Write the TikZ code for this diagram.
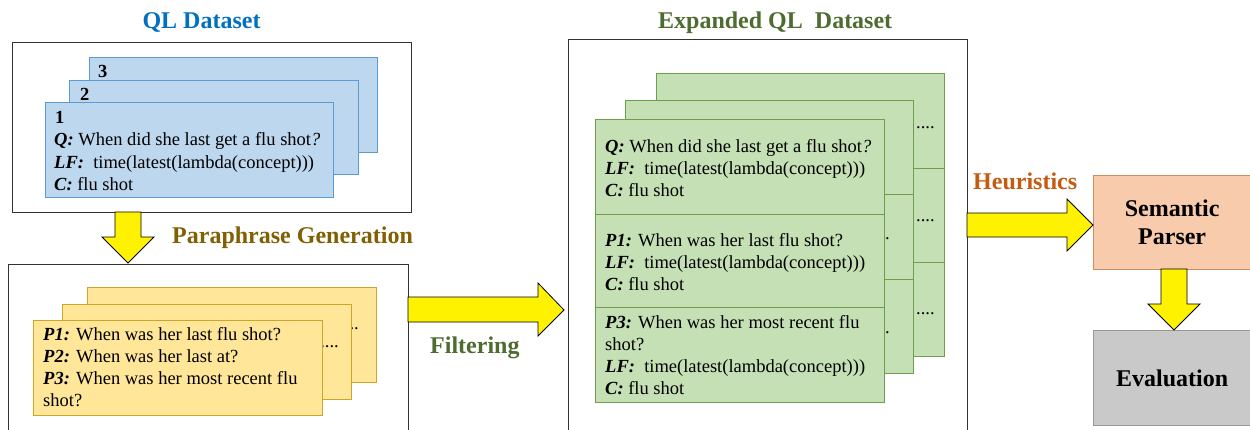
\documentclass[tikz,border=0pt]{standalone}
\usepackage{fontspec}
\setmainfont{Liberation Serif}
\definecolor{cBlueF}{HTML}{BDD7EE}
\definecolor{cBlueD}{HTML}{5B9BD5}
\definecolor{cYelF}{HTML}{FFE699}
\definecolor{cYelD}{HTML}{CFA528}
\definecolor{cGrnF}{HTML}{C5E0B4}
\definecolor{cGrnD}{HTML}{6E9E4C}
\definecolor{cOrF}{HTML}{F8CBAD}
\definecolor{cOrD}{HTML}{D08A5C}
\definecolor{cGrayF}{HTML}{C9C9C9}
\definecolor{cGrayD}{HTML}{999999}
\definecolor{tBlue}{HTML}{0070C0}
\definecolor{tGold}{HTML}{806000}
\definecolor{tGreen}{HTML}{4E6B30}
\definecolor{tOrange}{HTML}{C55A11}
\newcommand{\lbl}[1]{\textbf{\textit{#1}}}
\tikzset{
  box/.style={draw=black!80, line width=1.1pt, fill=white, inner sep=0pt, anchor=north west},
  card/.style={inner sep=0pt, anchor=north west, line width=1.3pt},
  bluecard/.style={card, fill=cBlueF, draw=cBlueD},
  yelcard/.style={card, fill=cYelF, draw=cYelD},
  grncard/.style={card, fill=cGrnF, draw=cGrnD},
  txt/.style={anchor=base west, inner sep=0pt, font=\fontsize{18.5}{22}\selectfont},
  ttl/.style={anchor=base west, inner sep=0pt, font=\fontsize{24}{28}\selectfont\bfseries},
  yarrow/.style={fill=yellow, draw=black, line width=0.8pt, line join=miter},
}
\begin{document}
\begin{tikzpicture}[x=1pt,y=-1pt]
\useasboundingbox (0,0) rectangle (1250,429);
\clip (0,0) rectangle (1250,429);
\fill[white] (0,0) rectangle (1250,429);

% titles
\node[ttl, anchor=base, text=tBlue] (tql) at (201.5,28) {QL Dataset};
\node[ttl, text=tGreen] (texp) at (658,28) {Expanded QL\ \ Dataset};
\node[ttl, text=tGold] (tpg) at (172,243) {Paraphrase Generation};
\node[ttl, text=tGreen] (tfil) at (430,353) {Filtering};
\node[ttl, text=tOrange] (theu) at (973,189) {Heuristics};

% QL dataset box
\node[box, minimum width=399pt, minimum height=170pt] (ql) at (12,42) {};
\node[bluecard, minimum width=288pt, minimum height=95pt] (b3) at (89,57) {};
\node[txt, font=\fontsize{18.5}{22}\selectfont\bfseries] (n3) at (98,77) {3};
\node[bluecard, minimum width=289pt, minimum height=94pt] (b2) at (69,80) {};
\node[txt, font=\fontsize{18.5}{22}\selectfont\bfseries] (n2) at (80,100) {2};
\node[bluecard, minimum width=288pt, minimum height=95pt] (b1) at (45,102) {};
\node[txt, font=\fontsize{18.5}{22}\selectfont\bfseries] (n1) at (55,123) {1};
\node[txt] (bq) at (54,145) {\lbl{Q:} When did she last get a flu shot\textit{?}};
\node[txt] (blf) at (54,168) {\lbl{LF:}\ \ time(latest(lambda(concept)))};
\node[txt] (bc) at (54,190) {\lbl{C:} flu shot};

% paraphrase box
\node[box, minimum width=400pt, minimum height=200pt] (pg) at (8,264) {};
\node[yelcard, minimum width=289pt, minimum height=95pt] (y3) at (87,287) {};
\node[txt, anchor=base east] (yd3) at (359,329) {......};
\node[yelcard, minimum width=289pt, minimum height=95pt] (y2) at (62,304) {};
\node[txt, anchor=base east] (yd2) at (339,347) {.....};
\node[yelcard, minimum width=289pt, minimum height=95pt] (y1) at (33,320) {};
\node[txt] (yp1) at (43,340) {\lbl{P1:} When was her last flu shot?};
\node[txt] (yp2) at (43,362) {\lbl{P2:} When was her last at?};
\node[txt] (yp3) at (43,384) {\lbl{P3:} When was her most recent flu};
\node[txt] (yp3b) at (43,406) {shot?};

% expanded box
\node[box, minimum width=399pt, minimum height=420pt] (exp) at (568,39) {};
% back card
\node[grncard, minimum width=288pt, minimum height=95pt] (g31) at (656,73) {};
\node[grncard, minimum width=288pt, minimum height=94pt] (g32) at (656,168) {};
\node[grncard, minimum width=288pt, minimum height=94pt] (g33) at (656,262) {};
\node[txt] (gd31) at (916,128) {....};
\node[txt] (gd32) at (916,221) {....};
\node[txt] (gd33) at (916,314) {....};
% middle card
\node[grncard, minimum width=288pt, minimum height=94pt] (g21) at (625,100) {};
\node[grncard, minimum width=288pt, minimum height=85pt] (g22) at (625,194) {};
\node[grncard, minimum width=288pt, minimum height=94pt] (g23) at (625,279) {};
\node[txt, anchor=base east] (gd22) at (890,239) {.....};
\node[txt, anchor=base east] (gd23) at (890,333) {.....};
% front card
\node[grncard, minimum width=289pt, minimum height=95pt] (g11) at (595,119) {};
\node[grncard, minimum width=289pt, minimum height=93pt] (g12) at (595,214) {};
\node[grncard, minimum width=289pt, minimum height=95pt] (g13) at (595,307) {};
\node[txt] (gq) at (605,152) {\lbl{Q:} When did she last get a flu shot\textit{?}};
\node[txt] (glf1) at (605,174) {\lbl{LF:}\ \ time(latest(lambda(concept)))};
\node[txt] (gc1) at (605,196) {\lbl{C:} flu shot};
\node[txt] (gp1) at (605,246) {\lbl{P1:} When was her last flu shot?};
\node[txt] (glf2) at (605,268) {\lbl{LF:}\ \ time(latest(lambda(concept)))};
\node[txt] (gc2) at (605,290) {\lbl{C:} flu shot};
\node[txt] (gp3) at (605,328) {\lbl{P3:} When was her most recent flu};
\node[txt] (gp3b) at (605,350) {shot?};
\node[txt] (glf3) at (605,372) {\lbl{LF:}\ \ time(latest(lambda(concept)))};
\node[txt] (gc3) at (605,394) {\lbl{C:} flu shot};

% right boxes
\node[card, fill=cOrF, draw=cOrD, minimum width=157pt, minimum height=94pt,
      align=center, font=\fontsize{24}{28}\selectfont\bfseries] (sp) at (1093,175) {Semantic\\Parser};
\node[card, fill=cGrayF, draw=cGrayD, minimum width=157pt, minimum height=95pt,
      font=\fontsize{24}{28}\selectfont\bfseries] (ev) at (1093,330) {Evaluation};

% block arrows
\draw[yarrow] (115,212) -- (141,212) -- (141,237) -- (154,237) -- (128,263) -- (102,237) -- (115,237) -- cycle;
\draw[yarrow] (408,297) -- (538,297) -- (538,283) -- (564,310) -- (538,336) -- (538,322) -- (408,322) -- cycle;
\draw[yarrow] (967,213) -- (1067,213) -- (1067,199) -- (1093,225) -- (1067,251) -- (1067,237) -- (967,237) -- cycle;
\draw[yarrow] (1161,269) -- (1187,269) -- (1187,304) -- (1200,304) -- (1174,330) -- (1148,304) -- (1161,304) -- cycle;
\end{tikzpicture}
\end{document}
